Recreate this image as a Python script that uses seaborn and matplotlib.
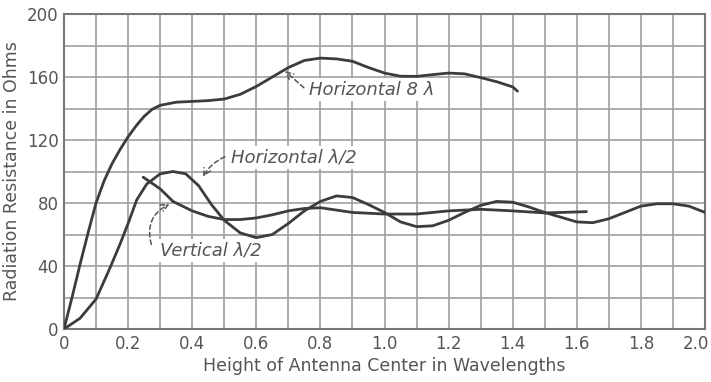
import matplotlib
matplotlib.use("Agg")
import matplotlib.pyplot as plt
import matplotlib.transforms as mtransforms
import seaborn as sns
import numpy as np
import pandas as pd

# ---- data ----
x_h8 = [0, 0.025, 0.05, 0.075, 0.1, 0.125, 0.15, 0.175, 0.2, 0.225, 0.25, 0.275, 0.3,
        0.35, 0.4, 0.45, 0.5, 0.55, 0.6, 0.65, 0.7, 0.75, 0.8, 0.85, 0.9, 0.95, 1.0,
        1.05, 1.1, 1.15, 1.2, 1.25, 1.3, 1.35, 1.4, 1.415]
y_h8 = [0, 20, 41, 61, 80, 94, 105, 114, 122, 129, 135, 139.5, 142,
        144, 144.5, 145, 146, 149, 154, 160, 166, 170.5, 172, 171.5, 170, 166, 162.5,
        160.5, 160.4, 161.5, 162.5, 162, 159.6, 157, 153.7, 151]

x_hh = [0, 0.05, 0.1, 0.144, 0.175, 0.2, 0.227, 0.258, 0.3, 0.34, 0.38, 0.42, 0.46,
        0.5, 0.55, 0.6, 0.65, 0.7, 0.75, 0.8, 0.85, 0.9, 0.95, 1.0, 1.05, 1.1, 1.15,
        1.2, 1.25, 1.3, 1.35, 1.4, 1.45, 1.5, 1.55, 1.6, 1.65, 1.7, 1.75, 1.8, 1.85,
        1.9, 1.95, 2.0]
y_hh = [0, 6.8, 19, 39, 54, 67, 82, 92, 98.5, 100, 98.5, 91, 79,
        69, 61, 58, 60, 67, 75, 81, 84.5, 83.5, 79, 74, 68, 65, 65.5,
        69, 74, 78.5, 81, 80.5, 77.5, 74, 71, 68, 67.5, 70, 74, 78, 79.5,
        79.5, 78, 74]

x_v = [0.247, 0.3, 0.34, 0.4, 0.45, 0.5, 0.55, 0.6, 0.65, 0.7, 0.75, 0.8, 0.85, 0.9,
       0.95, 1.0, 1.1, 1.2, 1.3, 1.4, 1.5, 1.63]
y_v = [96.4, 89, 81, 75, 71.5, 69.5, 69.5, 70.5, 72.5, 75, 76.5, 77, 75.5, 74,
       73.5, 73, 73, 75, 76, 75, 73.7, 74.5]

x_ticks = [0, 0.2, 0.4, 0.6, 0.8, 1.0, 1.2, 1.4, 1.6, 1.8, 2.0]
x_tick_labels = ["0", "0.2", "0.4", "0.6", "0.8", "1.0", "1.2", "1.4", "1.6", "1.8", "2.0"]
y_ticks = [0, 40, 80, 120, 160, 200]
y_tick_labels = ["0", "40", "80", "120", "160", "200"]

label_h8 = "Horizontal 8 λ"
label_hh = "Horizontal λ/2"
label_v = "Vertical λ/2"
xlabel = "Height of Antenna Center in Wavelengths"
ylabel = "Radiation Resistance in Ohms"

# ---- styling ----
sns.set_style("white")
plt.rcParams['font.family'] = ['DejaVu Sans']

LINE = "#3c3c3c"
GRID = "#a0a0a0"
TEXT = "#555555"

fig = plt.figure(figsize=(7.11, 3.82), dpi=100)
ax = fig.add_axes([64/711, 1-329/382, 641/711, 315/382])

for xs, ys in [(x_h8, y_h8), (x_hh, y_hh), (x_v, y_v)]:
    df = pd.DataFrame({"x": xs, "y": ys})
    sns.lineplot(data=df, x="x", y="y", ax=ax, color=LINE, linewidth=2.0,
                 sort=False, estimator=None, zorder=3)

ax.set_xlim(0, 2.0)
ax.set_ylim(0, 200)
ax.set_xticks(np.arange(0, 2.01, 0.1), minor=True)
ax.set_yticks(np.arange(0, 201, 20), minor=True)
ax.set_xticks(x_ticks)
ax.set_xticklabels(x_tick_labels)
ax.set_yticks(y_ticks)
ax.set_yticklabels(y_tick_labels)
ax.grid(True, which="both", color=GRID, linewidth=1.2, zorder=0)
ax.set_axisbelow(True)
ax.tick_params(which="both", length=0, labelsize=12, colors=TEXT, pad=4)
for s in ax.spines.values():
    s.set_color("#777777")
    s.set_linewidth(1.5)

# keep the last x tick label inside the figure
last = ax.get_xticklabels()[-1]
last.set_ha("right")
last.set_transform(last.get_transform() + mtransforms.ScaledTranslation(4/100, 0, fig.dpi_scale_trans))

ax.set_xlabel(xlabel, fontsize=12.5, color=TEXT, labelpad=3)
ax.set_ylabel(ylabel, fontsize=12.5, color=TEXT, labelpad=4)

bbox = dict(boxstyle="square,pad=0.15", fc="white", ec="none")
ax.text(0.765, 152, label_h8, fontsize=13, style="italic", color=TEXT,
        va="center", ha="left", bbox=bbox, zorder=4)
ax.text(0.52, 109, label_hh, fontsize=13, style="italic", color=TEXT,
        va="center", ha="left", bbox=bbox, zorder=4)
ax.text(0.30, 50, label_v, fontsize=13, style="italic", color=TEXT,
        va="center", ha="left", bbox=bbox, zorder=4)

arrow_kw = dict(arrowstyle="->,head_length=0.5,head_width=0.25", color=TEXT,
                linestyle=(0, (3, 2)), linewidth=1.1)
ax.annotate("", xy=(0.683, 165), xytext=(0.755, 152),
            arrowprops=dict(**arrow_kw, connectionstyle="arc3,rad=0"), zorder=4)
ax.annotate("", xy=(0.43, 95), xytext=(0.51, 110),
            arrowprops=dict(**arrow_kw, connectionstyle="arc3,rad=0.2"), zorder=4)
ax.annotate("", xy=(0.337, 80), xytext=(0.275, 52),
            arrowprops=dict(**arrow_kw, connectionstyle="arc3,rad=-0.45"), zorder=4)

fig.savefig("out.png", dpi=100, facecolor="white")
